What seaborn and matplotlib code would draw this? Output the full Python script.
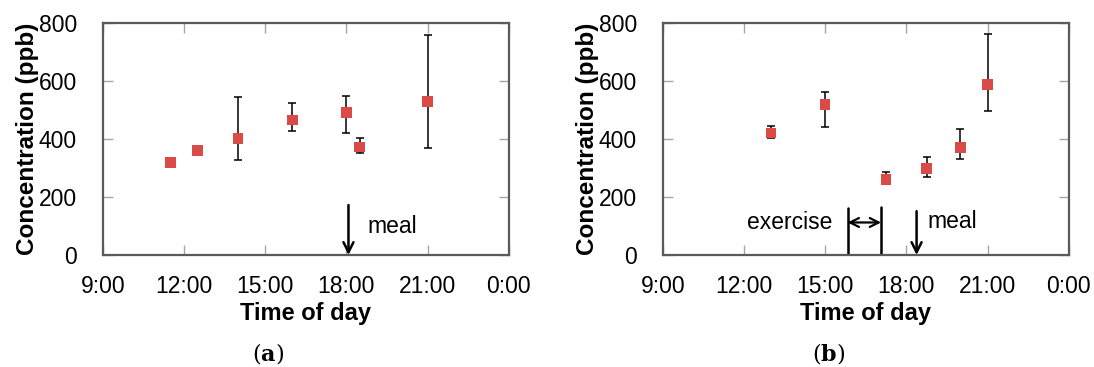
import numpy as np
import pandas as pd
import matplotlib
matplotlib.use("Agg")
import matplotlib.pyplot as plt
import seaborn as sns

# ---- data (time in decimal hours) ----
a_time = [11.5, 12.5, 14.0, 16.0, 18.0, 18.5, 21.0]
a_conc = [319, 359, 402, 465, 492, 372, 528]
a_err_low = [0, 0, 75, 38, 73, 20, 158]
a_err_high = [0, 0, 143, 60, 57, 32, 230]

b_time = [13.0, 15.0, 17.25, 18.75, 20.0, 21.0]
b_conc = [420, 517, 261, 298, 369, 586]
b_err_low = [18, 76, 13, 31, 37, 90]
b_err_high = [24, 46, 25, 41, 64, 174]

x_ticks = [9, 12, 15, 18, 21, 24]
x_ticklabels = ["9:00", "12:00", "15:00", "18:00", "21:00", "0:00"]
y_ticks = [0, 200, 400, 600, 800]

meal_a = 18.08
meal_b = 18.38
exercise_start = 15.83
exercise_end = 17.07

sns.set_theme(style="white")
plt.rcParams["font.family"] = ["Liberation Sans", "DejaVu Sans"]
plt.rcParams["text.color"] = "black"
plt.rcParams["axes.labelcolor"] = "black"

RED = "#da4a46"
SPINE = "#5a5a5a"
TICKC = "#a6a6a6"

fig = plt.figure(figsize=(10.94, 3.67), dpi=100)
ax_a = fig.add_axes([102.7 / 1094, 1 - 255 / 367, 406 / 1094, 232.3 / 367])
ax_b = fig.add_axes([662.7 / 1094, 1 - 255 / 367, 406 / 1094, 232.3 / 367])


def draw(ax, t, c, lo, hi):
    df = pd.DataFrame({"t": t, "c": c})
    ax.errorbar(t, c, yerr=[lo, hi], fmt="none", ecolor="black",
                elinewidth=1.1, capsize=3.2, capthick=1.1, zorder=2)
    sns.scatterplot(data=df, x="t", y="c", ax=ax, marker="s", s=60,
                    color=RED, edgecolor="none", zorder=3)
    ax.set_xlim(9, 24)
    ax.set_ylim(0, 800)
    ax.set_xticks(x_ticks)
    ax.set_xticklabels(x_ticklabels)
    ax.set_yticks(y_ticks)
    ax.tick_params(axis="both", direction="in", length=7, width=1,
                   color=TICKC, labelsize=16.5, labelcolor="black",
                   top=True, right=True, bottom=True, left=True)
    ax.tick_params(axis="x", pad=14.5)
    ax.tick_params(axis="y", pad=18.5)
    for s in ax.spines.values():
        s.set_color(SPINE)
        s.set_linewidth(1.6)
        s.set_visible(True)
    ax.set_xlabel("Time of day", fontsize=17, fontweight="bold", labelpad=3)
    ax.set_ylabel("Concentration (ppb)", fontsize=17.5, fontweight="bold",
                  labelpad=0)


draw(ax_a, a_time, a_conc, a_err_low, a_err_high)
draw(ax_b, b_time, b_conc, b_err_low, b_err_high)

arrow_kw = dict(arrowstyle="->", color="black", lw=1.8,
                mutation_scale=18, shrinkA=0, shrinkB=0)

# panel a annotations
ax_a.annotate("", xy=(meal_a, 0), xytext=(meal_a, 172), arrowprops=arrow_kw)
ax_a.text(18.78, 75, "meal", fontsize=16.5, ha="left", va="baseline")

# panel b annotations
ax_b.annotate("", xy=(meal_b, 0), xytext=(meal_b, 151), arrowprops=arrow_kw)
ax_b.text(18.78, 92, "meal", fontsize=16.5, ha="left", va="baseline")
ax_b.plot([exercise_start, exercise_start], [0, 161], color="black", lw=1.8)
ax_b.plot([exercise_end, exercise_end], [0, 164], color="black", lw=1.8)
ax_b.annotate("", xy=(exercise_start, 112), xytext=(exercise_end, 112),
              arrowprops=dict(arrowstyle="<->", color="black", lw=1.6,
                              mutation_scale=16, shrinkA=0, shrinkB=0))
ax_b.text(15.28, 90, "exercise", fontsize=16.5, ha="right", va="baseline")

fig.text(268 / 1094, 1 - 353 / 367, r"$(\mathbf{a})$", fontsize=16,
         ha="center", va="center", math_fontfamily="dejavuserif")
fig.text(829 / 1094, 1 - 353 / 367, r"$(\mathbf{b})$", fontsize=16,
         ha="center", va="center", math_fontfamily="dejavuserif")

fig.savefig("out.png", dpi=100)
